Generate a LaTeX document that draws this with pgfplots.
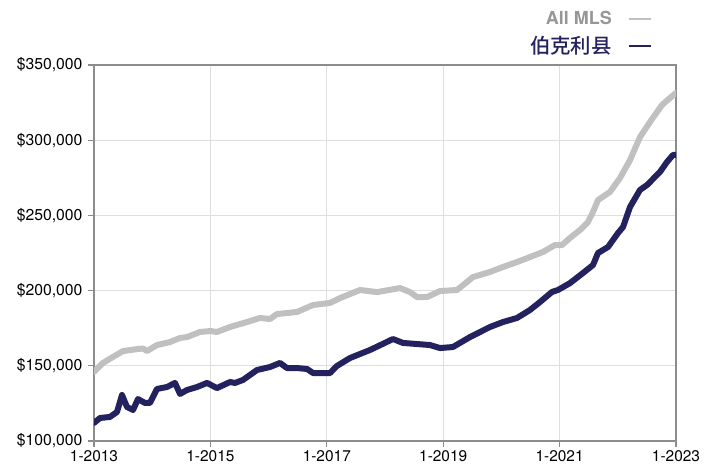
\documentclass[border=0pt]{standalone}
\usepackage{pgfplots}
\pgfplotsset{compat=1.18}
\usepackage{fontspec}
\setmainfont{TeX Gyre Heros}
\newfontfamily\cjk{Noto Sans CJK SC}[BoldFont={Noto Sans CJK SC Medium}]
\definecolor{mlsgray}{RGB}{192,192,192}
\definecolor{mlstext}{RGB}{150,150,150}
\definecolor{navy}{RGB}{35,33,94}
\definecolor{framegray}{RGB}{140,140,140}
\definecolor{gridgray}{RGB}{222,222,222}
\begin{document}
\begin{tikzpicture}
\path[use as bounding box] (0,0) rectangle (714bp,470bp);
\begin{axis}[
  at={(94bp,29bp)}, anchor=south west,
  scale only axis, width=582bp, height=376bp,
  xmin=2013, xmax=2023, ymin=100, ymax=350,
  xtick={2013,2015,2017,2019,2021,2023},
  xticklabels={1-2013,1-2015,1-2017,1-2019,1-2021,1-2023},
  ytick={100,150,200,250,300,350},
  yticklabels={\$100{,}000,\$150{,}000,\$200{,}000,\$250{,}000,\$300{,}000,\$350{,}000},
  xticklabel style={font=\fontsize{15.5}{17}\selectfont},
  yticklabel style={font=\fontsize{15.8}{17}\selectfont, xshift=-2bp},
  grid=major,
  major grid style={draw=gridgray, line width=1.2bp},
  axis line style={draw=framegray, line width=1.3bp},
  tick style={draw=framegray, line width=1.2bp},
  tick align=outside, xtick pos=bottom, ytick pos=left,
  major tick length=6bp,
  legend plot pos=right,
  legend cell align=right,
  legend image code/.code={\draw[#1, line width=2.2bp, line cap=butt] (0bp,0bp) -- (22bp,0bp);},
  legend style={at={(0.959,1.148)}, anchor=north east, draw=none, fill=none, inner sep=0pt,
    row sep=6bp, column sep=14bp},
]
\addplot[mlsgray, line width=6bp, line join=round, line cap=round] table {
2013.000 145.9
2013.155 151.9
2013.326 155.9
2013.498 159.8
2013.756 161.2
2013.842 161.5
2013.911 159.8
2014.082 163.8
2014.306 165.8
2014.478 168.5
2014.598 169.1
2014.821 172.5
2015.000 173.1
2015.113 172.5
2015.337 175.8
2015.629 179.1
2015.852 181.8
2016.024 181.1
2016.144 184.4
2016.488 185.8
2016.763 190.4
2017.055 191.8
2017.227 195.0
2017.570 200.4
2017.863 199.0
2018.258 201.7
2018.430 199.0
2018.550 195.7
2018.722 195.7
2018.945 199.7
2019.237 200.4
2019.512 209.0
2019.804 212.4
2020.027 215.7
2020.268 219.0
2020.491 222.3
2020.715 225.7
2020.921 230.3
2021.041 230.3
2021.179 235.0
2021.351 240.3
2021.488 245.6
2021.574 252.3
2021.660 260.2
2021.866 265.6
2022.038 274.9
2022.210 286.8
2022.381 302.1
2022.553 312.1
2022.759 323.4
2022.897 328.1
2023.000 331.4
};
\addlegendentry{\textcolor{mlstext}{\bfseries\fontsize{18}{20}\selectfont All MLS}}
\addplot[navy, line width=6bp, line join=round, line cap=round] table {
2013.000 112.0
2013.103 115.3
2013.275 116.0
2013.395 119.3
2013.481 130.6
2013.567 122.6
2013.670 120.6
2013.756 127.9
2013.876 125.3
2013.962 125.3
2014.082 134.6
2014.254 135.9
2014.392 138.6
2014.478 131.3
2014.598 133.9
2014.770 135.9
2014.942 138.6
2015.113 135.2
2015.337 139.2
2015.423 138.6
2015.560 140.6
2015.801 147.2
2016.024 149.2
2016.196 151.9
2016.316 148.5
2016.488 148.5
2016.660 147.9
2016.763 145.2
2017.055 145.2
2017.175 149.9
2017.399 155.2
2017.742 160.5
2018.137 167.8
2018.309 165.2
2018.773 163.8
2018.945 161.8
2019.168 162.5
2019.460 169.1
2019.804 175.8
2020.027 179.1
2020.268 181.8
2020.491 187.1
2020.663 192.4
2020.869 199.1
2020.973 200.4
2021.179 205.0
2021.402 211.7
2021.574 217.0
2021.660 225.0
2021.832 229.0
2022.004 238.3
2022.090 242.3
2022.210 255.6
2022.381 266.9
2022.502 270.2
2022.725 278.9
2022.845 285.5
2022.948 290.2
2023.000 290.2
};
\addlegendentry{\textcolor{navy}{\cjk\bfseries\fontsize{20.5}{22}\selectfont 伯克利县}}
\end{axis}
\end{tikzpicture}
\end{document}
